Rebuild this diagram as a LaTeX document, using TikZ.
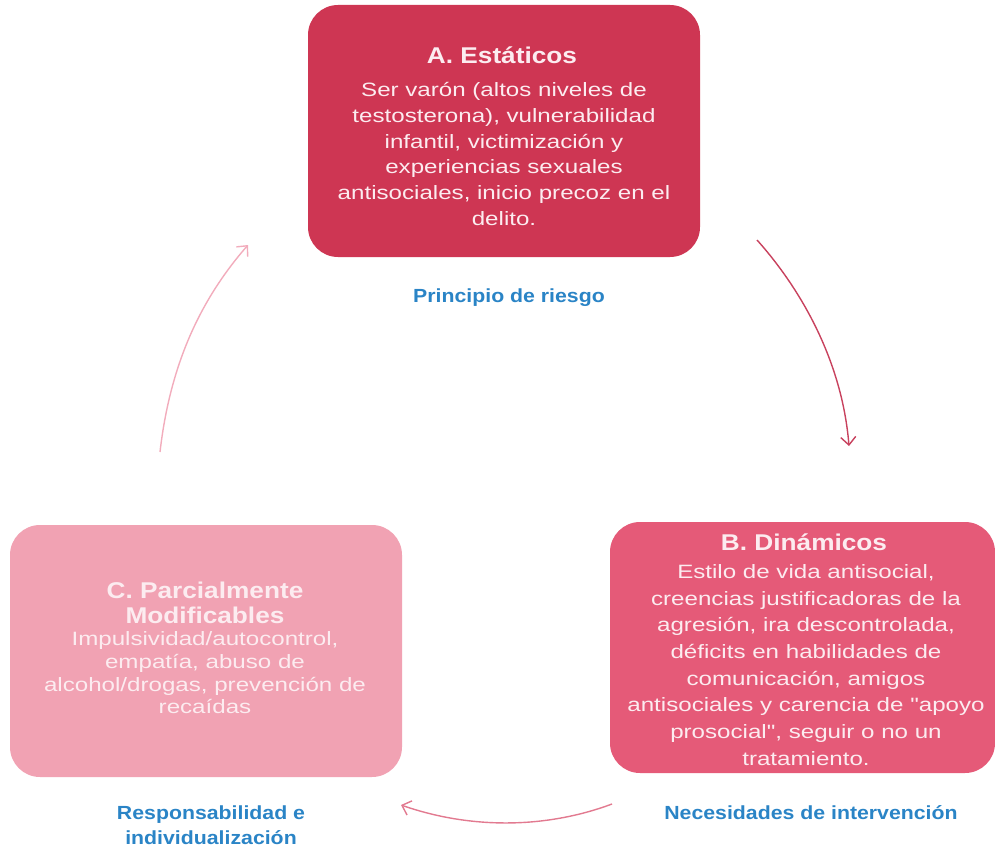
\documentclass[tikz,border=0pt]{standalone}
\usepackage{fontspec}
\setmainfont{Liberation Sans}[FakeStretch=1.12]
\newfontfamily\titlefont{Liberation Sans}[FakeStretch=1.15]
\newfontfamily\bodyfont{Liberation Sans}[FakeStretch=1.25]
\usetikzlibrary{arrows.meta}

\definecolor{staticred}{RGB}{206,54,83}
\definecolor{dynpink}{RGB}{229,90,120}
\definecolor{partpink}{RGB}{241,162,179}
\definecolor{boxtext}{RGB}{252,236,240}
\definecolor{labelblue}{RGB}{42,132,198}
\definecolor{arrowAB}{RGB}{200,66,94}
\definecolor{arrowBC}{RGB}{226,122,144}
\definecolor{arrowCA}{RGB}{242,172,188}

\begin{document}
\begin{tikzpicture}[x=1pt,y=-1pt,
  factorbox/.style={rounded corners=30pt, inner sep=0pt, draw=none},
  boxtitle/.style={text=boxtext, align=center, inner sep=0pt,
    font=\titlefont\fontsize{22.8}{25}\selectfont\bfseries},
  boxbody/.style={text=boxtext, align=center, inner sep=0pt},
  principle/.style={text=labelblue, align=center, inner sep=0pt,
    font=\fontsize{19}{25}\selectfont\bfseries},
  cycle/.style={line width=1.4pt, -{Straight Barb[length=8pt,width=15pt,line width=1.4pt]}}
]
\useasboundingbox (0,0) rectangle (995,851);

% the three factor boxes
\node[factorbox, fill=staticred, minimum width=392pt, minimum height=252pt] (boxA) at (504,131) {};
\node[factorbox, fill=dynpink, minimum width=385pt, minimum height=251pt] (boxB) at (802.5,647.5) {};
\node[factorbox, fill=partpink, minimum width=392pt, minimum height=252pt] (boxC) at (206,651) {};

% box A
\node[boxtitle] (titleA) at (502,55) {A. Estáticos};
\node[boxbody, font=\bodyfont\fontsize{19.3}{25.8}\selectfont] (bodyA) at (504,154) {Ser varón (altos niveles de\\testosterona), vulnerabilidad\\infantil, victimización y\\experiencias sexuales\\antisociales, inicio precoz en el\\delito.};

% box B
\node[boxtitle] (titleB) at (804,542) {B. Dinámicos};
\node[boxbody, font=\bodyfont\fontsize{19.3}{26.7}\selectfont] (bodyB) at (806,665) {Estilo de vida antisocial,\\creencias justificadoras de la\\agresión, ira descontrolada,\\déficits en habilidades de\\comunicación, amigos\\antisociales y carencia de "apoyo\\prosocial", seguir o no un\\tratamiento.};

% box C
\node[boxtitle] (titleC) at (205,603) {C. Parcialmente\\Modificables};
\node[boxbody, font=\bodyfont\fontsize{19.3}{22.7}\selectfont] (bodyC) at (205,673) {Impulsividad/autocontrol,\\empatía, abuso de\\alcohol/drogas, prevención de\\recaídas};

% principle labels
\node[principle] (riesgo) at (509,298) {Principio de riesgo};
\node[principle] (necesidades) at (811,813) {Necesidades de intervención};
\node[principle] (responsab) at (211,825) {Responsabilidad e\\individualización};

% cycle arrows
\coordinate (caStart) at (160,452);
\coordinate (caEnd) at (248,245);
\coordinate (abStart) at (757,240);
\coordinate (abEnd) at (849,446);
\coordinate (bcStart) at (612,804);
\coordinate (bcEnd) at (401,805);

\draw[cycle, draw=arrowCA] (caStart) .. controls (170,365) and (200,300) .. (caEnd);
\draw[cycle, draw=arrowAB] (abStart) .. controls (800,288) and (842,360) .. (abEnd);
\draw[cycle, draw=arrowBC] (bcStart) .. controls (545,829) and (470,829) .. (bcEnd);
\end{tikzpicture}
\end{document}
